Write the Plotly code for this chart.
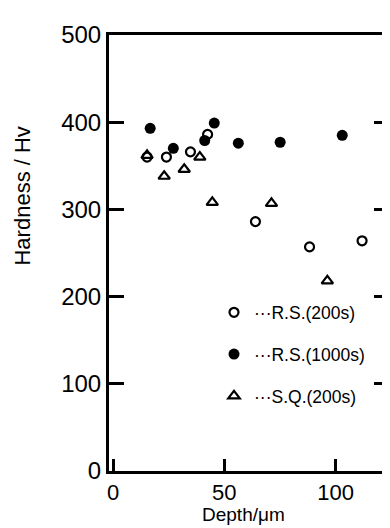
import plotly.graph_objects as go

rs200_depth = [15.3, 24, 34.8, 42.5, 64, 88.3, 111.9]
rs200_hv = [360, 360, 366, 386, 286, 257, 264]
rs1000_depth = [16.7, 27.1, 41.2, 45.5, 56.3, 75.1, 103]
rs1000_hv = [393, 370, 379, 399, 376, 377, 385]
sq200_depth = [15.3, 23, 32, 39, 44.6, 71.2, 96.3]
sq200_hv = [362, 338, 346, 360, 308, 307, 218]
names = ["\u00b7\u00b7\u00b7R.S.(200s)", "\u00b7\u00b7\u00b7R.S.(1000s)", "\u00b7\u00b7\u00b7S.Q.(200s)"]
x_ticks = [0, 50, 100]
y_ticks = [0, 100, 200, 300, 400, 500]

fnt = "Liberation Sans, Arial, sans-serif"
fig = go.Figure()
fig.add_trace(go.Scatter(x=rs200_depth, y=rs200_hv, mode="markers", name=names[0], legendgroup="a",
                         marker=dict(symbol="circle-open", size=9, color="black", line=dict(width=2.2))))
fig.add_trace(go.Scatter(x=rs1000_depth, y=rs1000_hv, mode="markers", name=names[1], legendgroup="b",
                         marker=dict(symbol="circle", size=11, color="black")))
fig.add_trace(go.Scatter(x=sq200_depth, y=sq200_hv, mode="markers", name=names[2], legendgroup="c",
                         marker=dict(symbol="triangle-up-open", size=10, color="black", line=dict(width=2.2))))

fig.update_layout(
    width=390, height=528,
    margin=dict(l=101, r=6, t=27, b=65),
    paper_bgcolor="white", plot_bgcolor="white",
    font=dict(family=fnt, color="black"),
    showlegend=True,
    legend=dict(x=0.375, y=0.405, xanchor="left", yanchor="top", bgcolor="rgba(0,0,0,0)",
                font=dict(size=17.5, family=fnt), traceorder="grouped", tracegroupgap=16,
                itemwidth=30),
    xaxis=dict(range=[-1.8, 124], tickvals=x_ticks, ticks="inside", ticklen=12, tickwidth=3,
               tickcolor="black", showline=True, linewidth=3, linecolor="black", mirror=True,
               showgrid=False, zeroline=False, tickfont=dict(size=22, family=fnt)),
    yaxis=dict(range=[0, 500], tickvals=y_ticks, ticks="inside", ticklen=15, tickwidth=3,
               tickcolor="black", showline=True, linewidth=3, linecolor="black", mirror="ticks",
               showgrid=False, zeroline=False, tickfont=dict(size=24, family=fnt)),
)
fig.add_annotation(text="Hardness / Hv", xref="paper", yref="paper", x=-0.31, y=0.63,
                   textangle=-90, showarrow=False, font=dict(size=22, family=fnt),
                   xanchor="center", yanchor="middle")
fig.add_annotation(text="Depth/\u03bcm", xref="paper", yref="paper", x=0.48, y=-0.128,
                   showarrow=False, font=dict(size=19, family=fnt),
                   xanchor="center", yanchor="bottom")
fig.write_html("out.html")
